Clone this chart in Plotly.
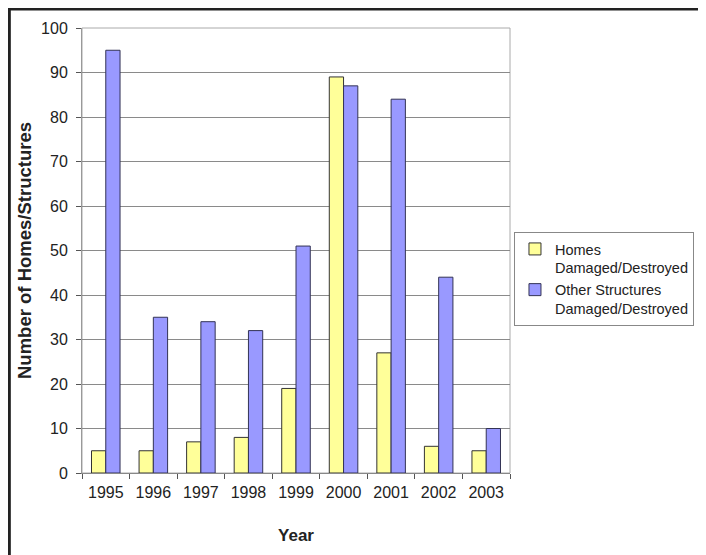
import plotly.graph_objects as go

years = ["1995", "1996", "1997", "1998", "1999", "2000", "2001", "2002", "2003"]
homes = [5, 5, 7, 8, 19, 89, 27, 6, 5]
other = [95, 35, 34, 32, 51, 87, 84, 44, 10]
y_ticks = [0, 10, 20, 30, 40, 50, 60, 70, 80, 90, 100]

# page body has an 8px margin, so figure coords = screen coords - 8
OFF = 8
W, H = 706 - OFF, 555 - OFF
L, R, T, B = 82 - OFF, 512 - OFF, 28 - OFF, 473 - OFF
pw, ph = R - L, B - T

def px(x):
    return (x - L) / pw

def py(y):
    return (B - y) / ph

fig = go.Figure()
fig.add_bar(x=years, y=homes, name="Homes<br>Damaged/Destroyed",
            marker=dict(color="#FFFF99", line=dict(color="#333333", width=1)))
fig.add_bar(x=years, y=other, name="Other Structures<br>Damaged/Destroyed",
            marker=dict(color="#9999FF", line=dict(color="#333355", width=1)))

fig.update_layout(
    width=W, height=H,
    margin=dict(l=L, r=W - R, t=T, b=H - B, pad=0),
    paper_bgcolor="white", plot_bgcolor="white",
    font=dict(family="Liberation Sans, Arial, sans-serif", size=16, color="#222222"),
    barmode="group", bargap=0.4, bargroupgap=0,
    legend=dict(x=px(516 - OFF), y=py(232 - OFF), xanchor="left", yanchor="top",
                bordercolor="#888888", borderwidth=1, font=dict(size=14.5),
                valign="top", tracegroupgap=3, itemwidth=30),
    showlegend=True,
)
fig.update_xaxes(
    title=dict(text="<b>Year</b>", font=dict(size=17), standoff=28),
    ticks="outside", tickson="boundaries", ticklen=5, tickcolor="#555555",
    showline=True, linecolor="#888888", linewidth=1,
    tickfont=dict(size=16), ticklabelstandoff=5,
)
fig.update_yaxes(
    title=dict(text="<b>Number of Homes/Structures</b>", font=dict(size=18.5), standoff=4),
    range=[0, 100], tickvals=y_ticks, ticks="outside", ticklen=5, tickcolor="#555555",
    showgrid=True, gridcolor="#8a8a8a", gridwidth=1,
    showline=True, linecolor="#999999", linewidth=1,
    tickfont=dict(size=16), zeroline=False, ticklabelstandoff=5,
)
# plot area border (light grey)
fig.add_shape(type="rect", xref="paper", yref="paper", x0=0, x1=1, y0=0, y1=1,
              line=dict(color="#aaaaaa", width=1), layer="below")
# outer dark frame: top and left edges only
fig.add_shape(type="line", xref="paper", yref="paper",
              x0=px(0), x1=px(W), y0=py(1), y1=py(1),
              line=dict(color="#222222", width=3))
fig.add_shape(type="line", xref="paper", yref="paper",
              x0=px(1), x1=px(1), y0=py(0), y1=py(H),
              line=dict(color="#222222", width=3))

fig.write_html("out.html")
